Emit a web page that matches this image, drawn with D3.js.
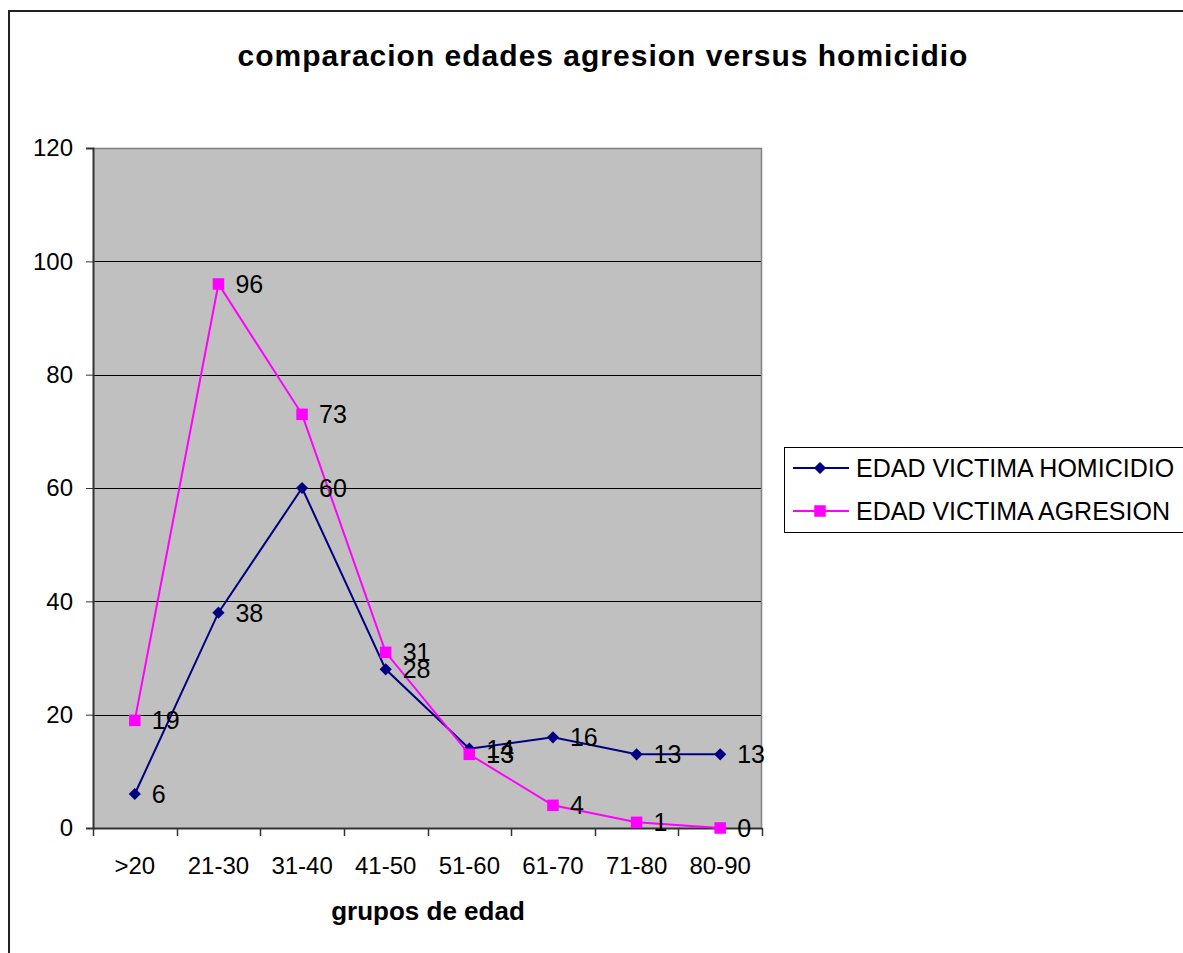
<!DOCTYPE html>
<html>
<head>
<meta charset="utf-8">
<script src="https://cdn.jsdelivr.net/npm/d3@7"></script>
<style>
  body { margin: 0; background: #fff; }
  text { font-family: "Liberation Sans", Arial, sans-serif; }
</style>
</head>
<body>
<div id="chart"></div>
<script>
// data
const categories = ['>20', '21-30', '31-40', '41-50', '51-60', '61-70', '71-80', '80-90'];
const homicidio = [6, 38, 60, 28, 14, 16, 13, 13];
const agresion = [19, 96, 73, 31, 13, 4, 1, 0];
const yTicks = [0, 20, 40, 60, 80, 100, 120];
const seriesNames = ['EDAD VICTIMA HOMICIDIO', 'EDAD VICTIMA AGRESION'];

const W = 1183, H = 953;
const margin = {top: 148, right: 421, bottom: 125, left: 93};
const width = W - margin.left - margin.right;
const height = H - margin.top - margin.bottom;

const svg = d3.select('#chart').append('svg')
  .attr('width', W).attr('height', H);

// outer frame
svg.append('rect')
  .attr('x', 9).attr('y', 11)
  .attr('width', W + 10).attr('height', H + 10)
  .attr('fill', '#fff').attr('stroke', '#222').attr('stroke-width', 2);

svg.append('text')
  .attr('x', 603).attr('y', 66)
  .attr('text-anchor', 'middle')
  .style('font-size', '30px').style('font-weight', 'bold')
  .style('letter-spacing', '1px')
  .text('comparacion edades agresion versus homicidio');

const g = svg.append('g').attr('transform', `translate(${margin.left},${margin.top})`);

const x = d3.scaleBand().domain(categories).range([0, width]);
const y = d3.scaleLinear().domain([0, 120]).range([height, 0]);

g.append('rect')
  .attr('width', width).attr('height', height)
  .attr('fill', '#c0c0c0');

// gridlines
g.selectAll('.grid').data(yTicks.filter(d => d > 0 && d < 120)).enter()
  .append('line')
  .attr('x1', 0).attr('x2', width)
  .attr('y1', d => Math.round(y(d)) + 0.5).attr('y2', d => Math.round(y(d)) + 0.5)
  .attr('stroke', '#000').attr('stroke-width', 1);

// plot border (top/right gray)
g.append('path')
  .attr('d', `M0.5,0.5H${width - 0.5}V${height}`)
  .attr('fill', 'none').attr('stroke', '#808080').attr('stroke-width', 1.5);

// y axis
const yAxis = g.append('g')
  .call(d3.axisLeft(y).tickValues(yTicks).tickSize(7).tickPadding(13));
yAxis.select('.domain').attr('stroke', '#333').attr('stroke-width', 2);
yAxis.selectAll('.tick line').attr('stroke', '#333');
yAxis.selectAll('text').style('font-size', '24px').attr('fill', '#000')
  .attr('font-family', null);

// x axis with ticks between categories
const xAxis = g.append('g').attr('transform', `translate(0,${height})`)
  .call(d3.axisBottom(x).tickSize(0).tickPadding(29));
xAxis.select('.domain').attr('stroke', '#333').attr('stroke-width', 2);
xAxis.selectAll('text').style('font-size', '24px').attr('fill', '#000')
  .attr('font-family', null);
xAxis.selectAll('.sep').data(d3.range(categories.length + 1)).enter()
  .append('line')
  .attr('x1', i => Math.round(i * x.bandwidth()) + 0.5)
  .attr('x2', i => Math.round(i * x.bandwidth()) + 0.5)
  .attr('y1', 0).attr('y2', 8)
  .attr('stroke', '#333').attr('stroke-width', 1.5);

svg.append('text')
  .attr('x', 428).attr('y', 920)
  .attr('text-anchor', 'middle')
  .style('font-size', '26px').style('font-weight', 'bold')
  .text('grupos de edad');

const cx = d => x(d) + x.bandwidth() / 2;
const line = d3.line().x(d => cx(d[0])).y(d => y(d[1]));

function drawSeries(values, color, shape, size) {
  const pts = categories.map((c, i) => [c, values[i]]);
  g.append('path').datum(pts)
    .attr('d', line).attr('fill', 'none')
    .attr('stroke', color).attr('stroke-width', 2);
  g.selectAll(null).data(pts).enter().append('path')
    .attr('transform', d => `translate(${cx(d[0])},${y(d[1])})`)
    .attr('d', d3.symbol().type(shape).size(size))
    .attr('fill', color);
  return pts;
}

const ptsH = drawSeries(homicidio, '#000080', d3.symbolDiamond2, 95);
const ptsA = drawSeries(agresion, '#ff00ff', d3.symbolSquare2, 169);

// data labels
[ptsH, ptsA].forEach(pts => {
  g.selectAll(null).data(pts).enter().append('text')
    .attr('x', d => cx(d[0]) + 17)
    .attr('y', d => y(d[1]))
    .attr('dy', '0.36em')
    .style('font-size', '25px')
    .text(d => d[1]);
});

// legend
const lg = svg.append('g').attr('transform', 'translate(784,447)');
lg.append('rect')
  .attr('x', 0.5).attr('y', 0.5).attr('width', 420).attr('height', 85)
  .attr('fill', '#fff').attr('stroke', '#000').attr('stroke-width', 1);
const legendItems = [
  {name: seriesNames[0], color: '#000080', shape: d3.symbolDiamond2, size: 95},
  {name: seriesNames[1], color: '#ff00ff', shape: d3.symbolSquare2, size: 169}
];
legendItems.forEach((it, i) => {
  const yy = 21 + i * 43;
  lg.append('line').attr('x1', 9).attr('x2', 65).attr('y1', yy).attr('y2', yy)
    .attr('stroke', it.color).attr('stroke-width', 2);
  lg.append('path').attr('transform', `translate(36,${yy})`)
    .attr('d', d3.symbol().type(it.shape).size(it.size)).attr('fill', it.color);
  lg.append('text').attr('x', 72).attr('y', yy).attr('dy', '0.36em')
    .style('font-size', '25px').text(it.name);
});
</script>
</body>
</html>
